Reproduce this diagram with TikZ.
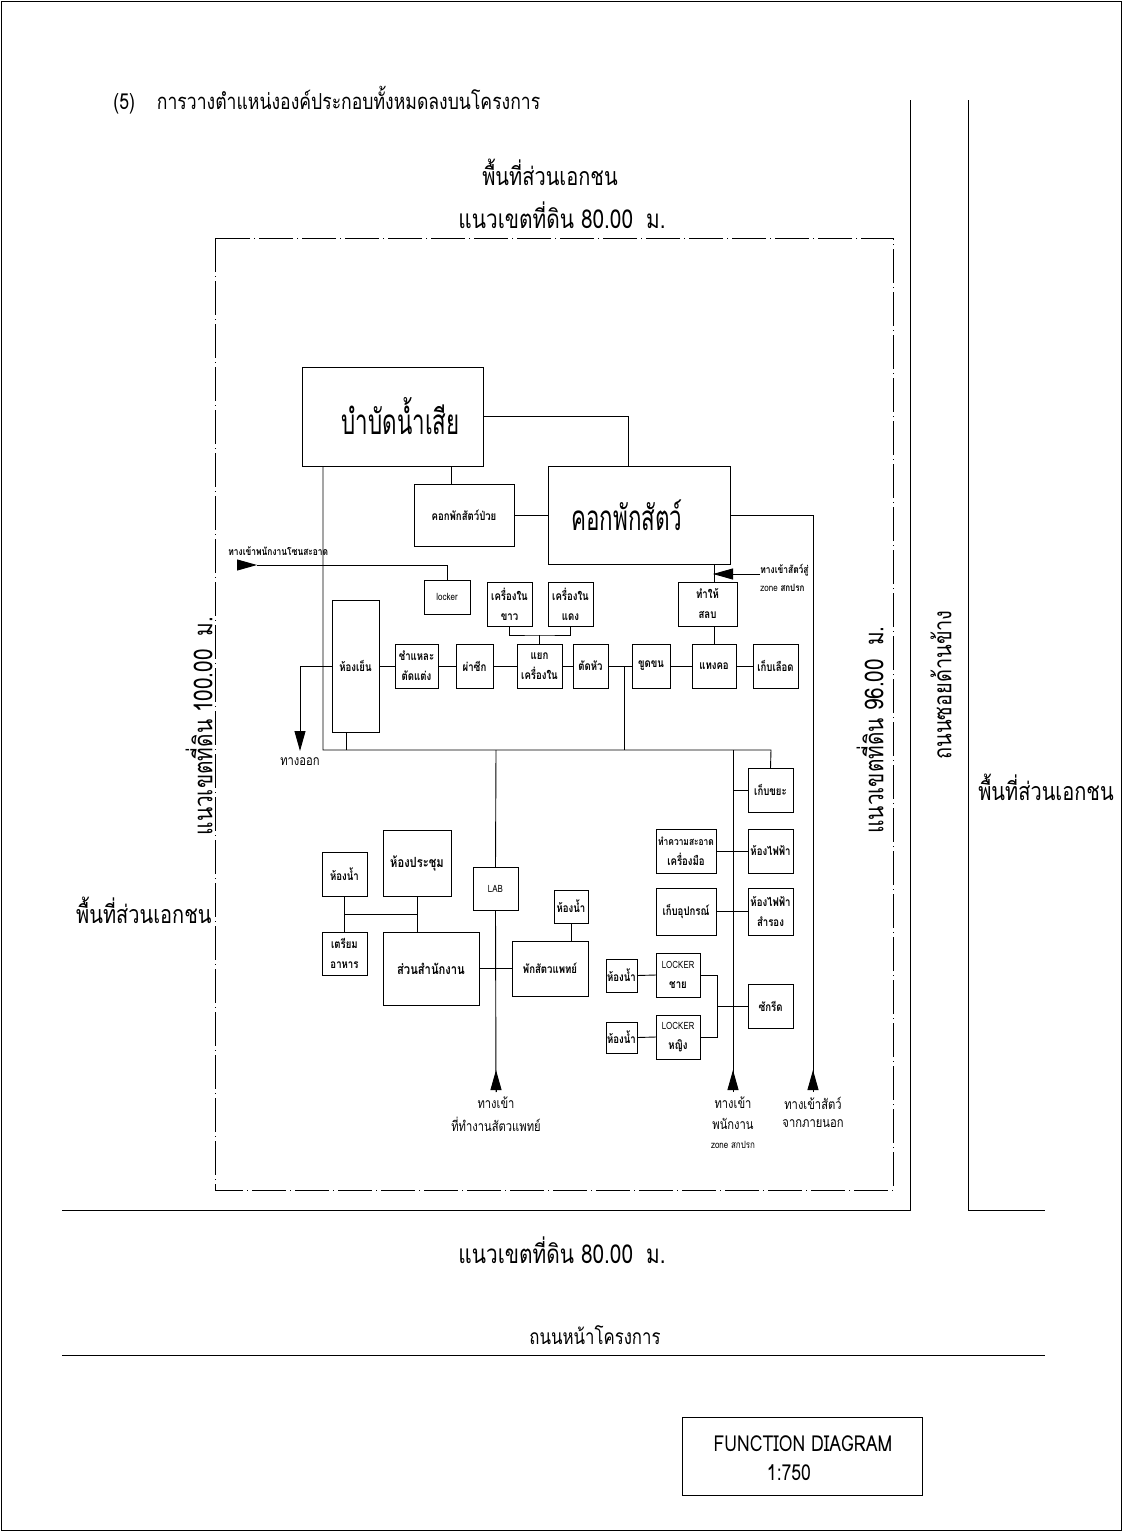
\documentclass[tikz,border=0pt]{standalone}
\usepackage{fontspec}
\usetikzlibrary{arrows.meta}
\newfontfamily\thaifont[Script=Thai,FakeStretch=0.8]{Loma}
\newfontfamily\thaicond[Script=Thai,FakeStretch=0.64]{Loma}
\newcommand\fsm{\thaifont\bfseries\fontsize{12}{20}\selectfont}
\newcommand\fsmall{\thaifont\bfseries\fontsize{10.5}{20}\selectfont}
\newcommand\fbig{\thaicond\mdseries\fontsize{35}{40}\selectfont}
\newcommand\fmid{\thaifont\fontsize{26}{30}\selectfont}
\newcommand\fpv{\thaifont\fontsize{25}{30}\selectfont}
\newcommand\fttl{\thaifont\fontsize{22}{26}\selectfont}
\newcommand\froad{\thaifont\fontsize{21}{26}\selectfont}
\newcommand\farr{\thaifont\fontsize{14}{21}\selectfont}
\newcommand\fzone{\thaifont\fontsize{10}{14}\selectfont}
\newcommand\bx[6]{\node[box, minimum width={#4-#2}, minimum height={#5-#3}] (#1) at ({(#2+#4)/2},{(#3+#5)/2}) {#6};}
\tikzset{
 box/.style={draw, line width=0.9pt, inner sep=0pt, outer sep=0pt, align=center, font=\fsm},
 tri/.style={-{Triangle[length=20pt,width=11pt]}},
 bnd/.style={dash pattern=on 34pt off 4pt on 1pt off 4pt, line width=0.9pt},
 lbl/.style={inner sep=0pt, align=center},
}
\begin{document}
\begin{tikzpicture}[x=1pt,y=-1pt,line width=0.9pt]
\useasboundingbox (0,0) rectangle (1122,1531);
\draw (1,1) rectangle (1121,1530);
% title and outer labels
\node[lbl, anchor=west, font=\fttl] (title) at (113,100) {(5)\quad การวางตำแหน่งองค์ประกอบทั้งหมดลงบนโครงการ};
\node[lbl, font=\fpv] (pvtop) at (550,172) {พื้นที่ส่วนเอกชน};
\node[lbl, font=\fmid] (bdtop) at (562,215) {แนวเขตที่ดิน 80.00\enspace ม.};
\node[lbl, font=\fmid] (bdbot) at (562,1250) {แนวเขตที่ดิน 80.00\enspace ม.};
\node[lbl, font=\froad] (road) at (595,1335) {ถนนหน้าโครงการ};
\node[lbl, font=\fmid, rotate=90] (bdleft) at (199,726) {แนวเขตที่ดิน 100.00\enspace ม.};
\node[lbl, font=\fmid, rotate=90] (bdright) at (870,730) {แนวเขตที่ดิน 96.00\enspace ม.};
\node[lbl, font=\fpv, rotate=90] (sideroad) at (941,685) {ถนนซอยด้านข้าง};
\node[lbl, font=\fpv] (pvright) at (1046,787) {พื้นที่ส่วนเอกชน};
\node[lbl, font=\fpv, anchor=east] (pvleft) at (212,910) {พื้นที่ส่วนเอกชน};
% boundary and roads
\draw[bnd] (215,238) rectangle (893,1190);
\draw (910,100) -- (910,1210) -- (62,1210);
\draw (968,100) -- (968,1210) -- (1045,1210);
\draw (62,1355) -- (1045,1355);
% function diagram box
\node[draw, minimum width=240pt, minimum height=78pt, inner sep=0pt] (fdbox) at (802,1456) {};
\node[lbl, font=\fttl] (fdt) at (803,1444) {FUNCTION DIAGRAM};
\node[lbl, font=\fttl] (fds) at (789,1473) {1:750};
% boxes
\bx{bambat}{302}{367}{483}{466}{\fbig\hspace*{16pt}บำบัดน้ำเสีย}
\bx{kok}{548}{466}{730}{564}{\fbig คอกพักสัตว์\hspace*{24pt}}
\bx{kokpuay}{414}{484}{514}{546}{คอกพักสัตว์ป่วย}
\bx{locker}{424}{580}{470}{614}{\fontseries{m}\selectfont\fontsize{10}{14}\selectfont locker}
\bx{kkhao}{487}{582}{532}{626}{เครื่องใน\\ขาว}
\bx{kdaeng}{548}{582}{593}{626}{เครื่องใน\\แดง}
\bx{tamhai}{678}{582}{737}{626}{ทำให้\\สลบ}
\bx{hongyen}{332}{600}{379}{732}{ห้องเย็น}
\bx{champae}{395}{644}{438}{688}{ชำแหละ\\ตัดแต่ง}
\bx{pasik}{456}{644}{493}{688}{ผ่าซีก}
\bx{yaek}{517}{644}{562}{688}{แยก\\เครื่องใน}
\bx{tathua}{573}{644}{608}{688}{ตัดหัว}
\bx{khudkhon}{632}{644}{670}{688}{ขูดขน}
\bx{taengkho}{692}{644}{736}{688}{แทงคอ}
\bx{kepluad}{753}{644}{798}{688}{เก็บเลือด}
\bx{kepkhaya}{748}{768}{793}{812}{เก็บขยะ}
\bx{tamkhwam}{656}{829}{716}{873}{\fsmall ทำความสะอาด\\เครื่องมือ}
\bx{hongfaifa}{748}{829}{793}{873}{ห้องไฟฟ้า}
\bx{kepupa}{656}{888}{716}{935}{เก็บอุปกรณ์}
\bx{faifasam}{748}{888}{793}{935}{ห้องไฟฟ้า\\สำรอง}
\bx{lockerM}{656}{953}{700}{997}{{\fontseries{m}\selectfont\fontsize{10}{14}\selectfont LOCKER}\\ชาย}
\bx{lockerF}{656}{1015}{700}{1059}{{\fontseries{m}\selectfont\fontsize{10}{14}\selectfont LOCKER}\\หญิง}
\bx{hongnam1}{606}{959}{637}{992}{ห้องน้ำ}
\bx{hongnam2}{606}{1022}{637}{1053}{ห้องน้ำ}
\bx{sakrid}{748}{984}{793}{1028}{ซักรีด}
\bx{hongnamA}{322}{852}{367}{896}{ห้องน้ำ}
\bx{prachum}{383}{830}{451}{896}{\fontsize{14}{20}\selectfont ห้องประชุม}
\bx{triam}{322}{932}{367}{975}{เตรียม\\อาหาร}
\bx{samnak}{383}{932}{479}{1005}{\fontsize{14}{20}\selectfont ส่วนสำนักงาน}
\bx{pakvet}{512}{941}{588}{996}{พักสัตวแพทย์}
\bx{hongnamB}{554}{890}{588}{923}{ห้องน้ำ}
\bx{lab}{473}{867}{518}{910}{\fontseries{m}\selectfont\fontsize{10}{14}\selectfont LAB}
% coordinates
\coordinate (mainL) at (323,750);
\coordinate (mainR) at (771,750);
\coordinate (jHY) at (346,750);
\coordinate (jLab) at (496,750);
\coordinate (jCut) at (624,750);
\coordinate (jStaff) at (733,750);
\coordinate (cBK) at (628,466);
\coordinate (cKP) at (451,484);
\coordinate (eW) at (237,565);
\coordinate (eTip) at (257,565);
\coordinate (eC) at (447,565);
\coordinate (exT) at (300,666);
\coordinate (exA) at (300,751);
\coordinate (brK) at (539.5,635);
\coordinate (cSt) at (714,600);
\coordinate (sA) at (760,574);
\coordinate (sT) at (713,574);
\coordinate (aVetB) at (496,1092);
\coordinate (aVetT) at (496,1070);
\coordinate (aStfB) at (733,1092);
\coordinate (aStfT) at (733,1070);
\coordinate (aAniB) at (813,1092);
\coordinate (aAniT) at (813,1070);
\coordinate (brM) at (717,975);
\coordinate (gJ) at (344.5,914);
\coordinate (gP) at (417,914);
% connectors
\draw (bambat.east) -| (cBK);
\draw (cKP) -- (cKP |- bambat.south);
\draw (kokpuay.east) -- (kok.west);
\draw (bambat.south -| mainL) -- (mainL) -- (mainR) -- (kepkhaya.north);
\draw[tri] (eW) -- (eTip);
\draw (eTip) -- (eC) -- (locker.north);
\draw (kkhao.south) |- (brK) -| (kdaeng.south);
\draw (brK) -- (yaek.north);
\draw (kok.south -| cSt) -- (tamhai.north -| cSt);
\draw (tamhai.south -| cSt) -- (taengkho.north -| cSt);
\draw[tri] (sA) -- (sT);
\draw[tri] (hongyen.west) -- (exT) -- (exA);
\draw (hongyen.east) -- (champae.west);
\draw (champae.east) -- (pasik.west);
\draw (pasik.east) -- (yaek.west);
\draw (yaek.east) -- (tathua.west);
\draw (tathua.east) -- (khudkhon.west);
\draw (khudkhon.east) -- (taengkho.west);
\draw (taengkho.east) -- (kepluad.west);
\draw (tathua.east -| jCut) -- (jCut);
\draw (hongyen.south -| jHY) -- (jHY);
\draw (jLab) -- (lab.north);
\draw (lab.south) -- (aVetB);
\draw[tri] (aVetB) -- (aVetT);
\draw (jStaff) -- (aStfB);
\draw[tri] (aStfB) -- (aStfT);
\draw (kok.east) -| (aAniB);
\draw[tri] (aAniB) -- (aAniT);
\draw (kepkhaya.west -| jStaff) -- (kepkhaya.west);
\draw (tamkhwam.east) -- (hongfaifa.west);
\draw (kepupa.east) -- (faifasam.west);
\draw (hongnam1.east) -- (lockerM.west);
\draw (hongnam2.east) -- (lockerF.west);
\draw (lockerM.east) -- (lockerM.east -| brM) -- (lockerF.east -| brM) -- (lockerF.east);
\draw (sakrid.west -| brM) -- (sakrid.west);
\draw (hongnamA.south) -- (triam.north);
\draw (gJ) -- (gP);
\draw (prachum.south) -- (prachum.south |- samnak.north);
\draw (samnak.east) -- (pakvet.west);
\draw (hongnamB.south) -- (hongnamB.south |- pakvet.north);
% labels
\node[lbl, font=\fsmall, anchor=south west] (entclean) at (228,556) {ทางเข้าพนักงานโซนสะอาด};
\node[lbl, font=\fsmall, anchor=west] (entani1) at (760,570) {ทางเข้าสัตว์สู่};
\node[lbl, font=\fzone, anchor=west] (entani2) at (760,588) {zone \bfseries สกปรก};
\node[lbl, font=\farr] (exitl) at (300,762) {ทางออก};
\node[lbl, font=\farr] (vet1) at (496,1103) {ทางเข้า};
\node[lbl, font=\farr] (vet2) at (496,1124) {ที่ทำงานสัตวแพทย์};
\node[lbl, font=\farr] (stf1) at (733,1103) {ทางเข้า};
\node[lbl, font=\farr] (stf2) at (733,1124) {พนักงาน};
\node[lbl, font=\fzone] (stf3) at (733,1145) {zone สกปรก};
\node[lbl, font=\farr] (ani1) at (813,1103) {ทางเข้าสัตว์};
\node[lbl, font=\farr] (ani2) at (813,1124) {จากภายนอก};
\end{tikzpicture}
\end{document}
